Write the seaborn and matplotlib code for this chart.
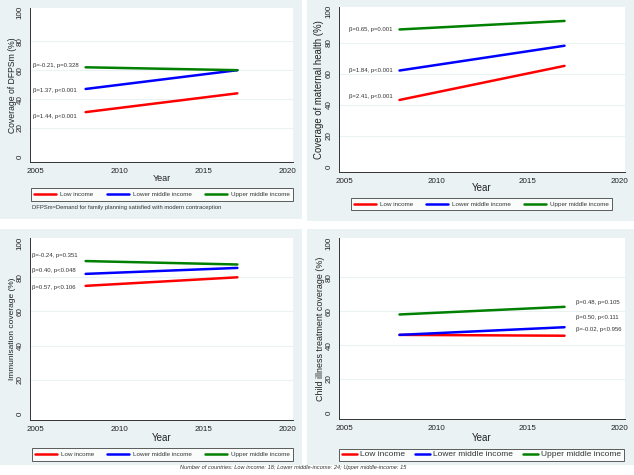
import numpy as np
import pandas as pd
import matplotlib
matplotlib.use("Agg")
import matplotlib.pyplot as plt
import seaborn as sns
from matplotlib import font_manager
from matplotlib.lines import Line2D
from matplotlib.patches import Rectangle

W, H = 634, 475

years = [2008, 2017]
groups = ["Low income", "Lower middle income", "Upper middle income"]
colors = ["#ff0000", "#0000ff", "#008000"]

# coverage (%) at first and last year, per income group
dfps_low = [31, 44]
dfps_lower = [47, 60]
dfps_upper = [62, 60]
dfps_notes = ["β=1.44, p<0.001", "β=1.37, p<0.001", "β=-0.21, p=0.328"]

mat_low = [43, 65]
mat_lower = [62, 78]
mat_upper = [88.5, 94]
mat_notes = ["β=2.41, p<0.001", "β=1.84, p<0.001", "β=0.65, p=0.001"]

imm_low = [75, 80]
imm_lower = [82, 85.5]
imm_upper = [89.5, 87.5]
imm_notes = ["β=0.57, p<0.106", "β=0.40, p<0.048", "β=-0.24, p=0.351"]

chi_low = [46, 45.5]
chi_lower = [46, 50.5]
chi_upper = [58, 62.5]
chi_notes = ["β=-0.02, p<0.956", "β=0.50, p<0.111", "β=0.48, p=0.105"]

sns.set_style("white")

# narrow font looks closer to the squeezed Stata text, if it is there
try:
    font_manager.findfont("Liberation Sans Narrow", fallback_to_default=False)
    fam = ["Liberation Sans Narrow", "DejaVu Sans"]
    k = 1.2
    note_fs = 4.9
except ValueError:
    fam = ["Liberation Sans", "DejaVu Sans"]
    k = 1.0
    note_fs = 4.3
plt.rcParams["font.family"] = fam

fig = plt.figure(figsize=(W / 100, H / 100), dpi=100)
bg = "#eaf2f3"


def px_rect(l, t, r, b):
    return [l / W, 1 - b / H, (r - l) / W, (b - t) / H]


# grey panel backgrounds
for l, t, r, b in [(0, 0, 302, 219), (307, 0, 634, 221), (0, 229, 302, 465), (307, 229, 634, 465)]:
    x0, y0, w, h = px_rect(l, t, r, b)
    fig.patches.append(Rectangle((x0, y0), w, h, transform=fig.transFigure,
                                 facecolor=bg, edgecolor="none", zorder=-5))

panels = [
    dict(vals=[dfps_low, dfps_lower, dfps_upper], notes=dfps_notes,
         note_x=[2004.88] * 3, note_y=[28, 46, 63.5],
         ylabel="Coverage of DFPSm (%)", ylab_fs=6.2,
         box=(30, 8, 293, 162), ylab_x=17, year_y=174, year_fs=6.5,
         leg=(32, 187, 292, 202), leg_fs=4.5, hl=3.5, cs=2.1, tp=0.65, bp=0.55),
    dict(vals=[mat_low, mat_lower, mat_upper], notes=mat_notes,
         note_x=[2005.27] * 3, note_y=[45, 62, 88.5],
         ylabel="Coverage of maternal health (%)", ylab_fs=6.9,
         box=(339, 7, 625, 172), ylab_x=324, year_y=183, year_fs=7,
         leg=(351, 197, 612, 211), leg_fs=4.5, hl=3.5, cs=2.1, tp=0.65, bp=0.5),
    dict(vals=[imm_low, imm_lower, imm_upper], notes=imm_notes,
         note_x=[2004.82] * 3, note_y=[74, 84, 93],
         ylabel="Immunisation coverage (%)", ylab_fs=6,
         box=(30, 238, 293, 420), ylab_x=16, year_y=433, year_fs=7,
         leg=(33, 447, 292, 462), leg_fs=4.5, hl=3.5, cs=2.1, tp=0.65, bp=0.55),
    dict(vals=[chi_low, chi_lower, chi_upper], notes=chi_notes,
         note_x=[2017.6] * 3, note_y=[49, 56, 65],
         ylabel="Child illness treatment coverage (%)", ylab_fs=6.4,
         box=(339, 238, 625, 419), ylab_x=325, year_y=433, year_fs=7,
         leg=(341, 447, 622, 462), leg_fs=6, hl=1.8, cs=1.2, tp=0.4, bp=0.25),
]

for p in panels:
    rows = []
    for g, v in zip(groups, p["vals"]):
        for yr, val in zip(years, v):
            rows.append({"Year": yr, "cov": val, "group": g})
    df = pd.DataFrame(rows)

    ax = fig.add_axes(px_rect(*p["box"]))
    ax.set_facecolor("white")
    sns.lineplot(data=df, x="Year", y="cov", hue="group", hue_order=groups,
                 palette=colors, linewidth=1.8, legend=False, ax=ax)

    ax.set_xlim(2004.7, 2020.3)
    ax.set_ylim(-3.5, 103)
    ax.set_xticks([2005, 2010, 2015, 2020])
    ax.set_yticks([0, 20, 40, 60, 80, 100])
    for gy in [20, 40, 60, 80]:
        ax.axhline(gy, color=bg, lw=0.8, zorder=0)
    for s in ["top", "right"]:
        ax.spines[s].set_visible(False)
    for s in ["left", "bottom"]:
        ax.spines[s].set_color("#333333")
        ax.spines[s].set_linewidth(0.7)
    ax.tick_params(axis="both", direction="out", length=3, width=0.6,
                   color="#333333", labelsize=5.8 * k, pad=1.5, labelcolor="#222222")
    for lab in ax.get_yticklabels():
        lab.set_rotation(90)
        lab.set_va("center")

    l, t, r, b = p["box"]
    ax.set_ylabel(p["ylabel"], fontsize=p["ylab_fs"] * k, color="#222222")
    ax.yaxis.set_label_coords((p["ylab_x"] - l) / (r - l), 0.5)
    ax.set_xlabel("Year", fontsize=p["year_fs"] * k, color="#222222")
    ax.xaxis.set_label_coords(0.5, (b - p["year_y"]) / (b - t))

    for nx, ny, txt in zip(p["note_x"], p["note_y"], p["notes"]):
        ax.text(nx, ny, txt, fontsize=note_fs, va="center", ha="left", color="#333333",
                clip_on=False)

    handles = [Line2D([], [], color=c, lw=1.8) for c in colors]
    ll, lt, lr, lb = p["leg"]
    leg = fig.legend(handles, groups, loc="center", ncol=3,
                     bbox_to_anchor=((ll + lr) / 2 / W, 1 - (lt + lb) / 2 / H),
                     bbox_transform=fig.transFigure, fontsize=p["leg_fs"] * k,
                     frameon=True, fancybox=False, edgecolor="#333333",
                     handlelength=p["hl"] / k, borderaxespad=0, borderpad=p["bp"] / k,
                     columnspacing=p["cs"] / k, handletextpad=p["tp"] / k)
    leg.get_frame().set_linewidth(0.7)
    leg.get_frame().set_facecolor("white")
    for t_ in leg.get_texts():
        t_.set_color("#333333")

fig.text(32 / W, 1 - 207 / H,
         "DFPSm=Demand for family planning satisfied with modern contraception",
         fontsize=4.25 * k, va="center", ha="left", color="#333333")
fig.text(293 / W, 1 - 468 / H,
         "Number of countries: Low income: 18; Lower middle-income: 24; Upper middle-income: 15",
         fontsize=4.1 * k, style="italic", va="center", ha="center", color="#333333")

fig.savefig("out.png", dpi=100)
